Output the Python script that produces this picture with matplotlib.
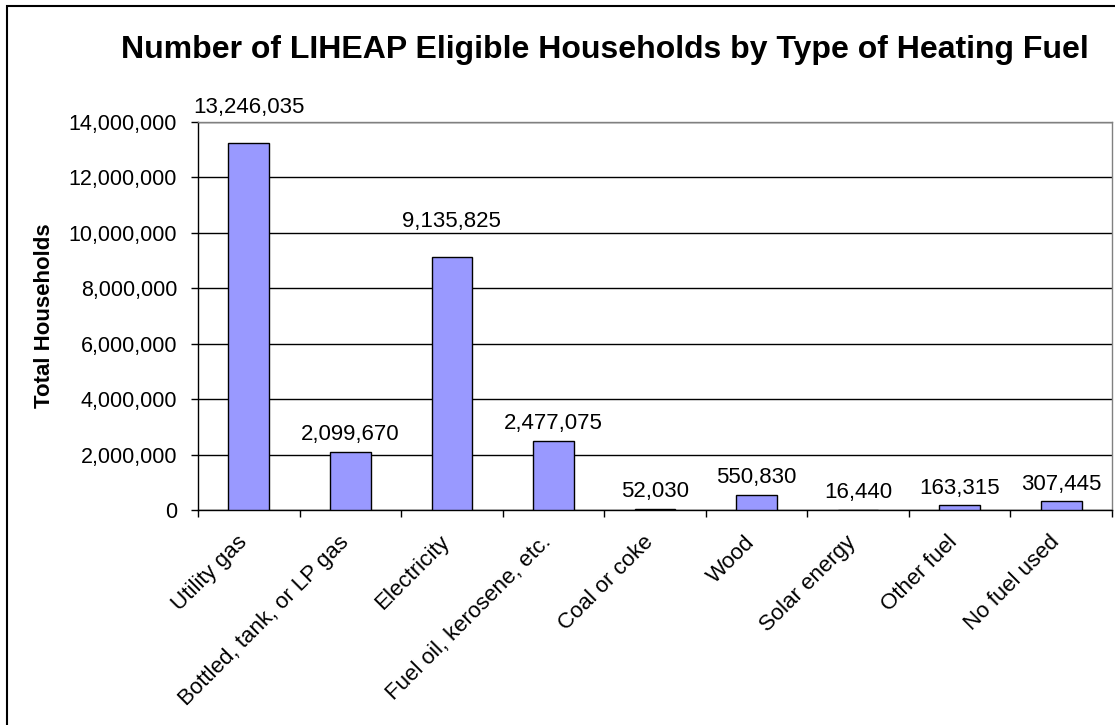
import matplotlib
matplotlib.use("Agg")
import matplotlib.pyplot as plt
import matplotlib.patches as patches
import matplotlib.transforms as mtransforms
from matplotlib.ticker import FuncFormatter, MultipleLocator
import numpy as np

plt.rcParams['font.family'] = ['Liberation Sans', 'DejaVu Sans']

# データ
categories = ["Utility gas", "Bottled, tank, or LP gas", "Electricity",
              "Fuel oil, kerosene, etc.", "Coal or coke", "Wood",
              "Solar energy", "Other fuel", "No fuel used"]
households = [13246035, 2099670, 9135825, 2477075, 52030,
              550830, 16440, 163315, 307445]

title = "Number of LIHEAP Eligible Households by Type of Heating Fuel"
ylabel = "Total Households"


def main():
    fig = plt.figure(figsize=(11.15, 7.25), dpi=100)
    ax = fig.add_axes([198 / 1115, 1 - 510 / 725, 914 / 1115, 388 / 725])

    x = np.arange(len(categories))
    ax.bar(x, households, width=0.4, color="#9999FF", edgecolor="black",
           linewidth=1.0, zorder=3)

    ## データラベル
    for xi, v in zip(x, households):
        pad = 18 if v > 5e6 else 5
        ax.annotate(f"{v:,}", (xi, v), xytext=(0, pad), textcoords="offset points",
                    ha="center", va="bottom", fontsize=16, color="black")

    ax.set_xlim(-0.5, len(categories) - 0.5)
    ax.set_ylim(0, 14000000)
    ax.yaxis.set_major_locator(MultipleLocator(2000000))
    ax.yaxis.set_major_formatter(FuncFormatter(lambda v, p: f"{int(v):,}"))
    ax.grid(axis="y", color="black", linewidth=1.0, zorder=0)

    ## 区切りの目盛り
    ax.set_xticks(x)
    ax.set_xticklabels(categories, rotation=45, ha="right", va="center",
                       rotation_mode="anchor", fontsize=16)
    ax.tick_params(axis="x", which="major", length=0, pad=21)
    shift = mtransforms.ScaledTranslation(-5 / 100, 0, fig.dpi_scale_trans)
    for lbl in ax.get_xticklabels():
        lbl.set_transform(lbl.get_transform() + shift)
    ax.set_xticks(np.arange(len(categories) + 1) - 0.5, minor=True)
    ax.tick_params(axis="x", which="minor", length=5, width=1, color="black")
    ax.tick_params(axis="y", length=5, width=1, pad=10, labelsize=15.5)

    for s in ["left", "bottom"]:
        ax.spines[s].set_color("black")
        ax.spines[s].set_linewidth(1.0)
    for s in ["right", "top"]:
        ax.spines[s].set_color("#808080")
        ax.spines[s].set_linewidth(1.0)

    ax.set_ylabel(ylabel, fontsize=16, fontweight="bold", labelpad=10)

    fig.text(605 / 1115, 1 - 50 / 725, title, ha="center", va="center",
             fontsize=23, fontweight="bold")

    ## 外枠
    border = patches.Rectangle((7 / 1115, -0.05), 1.2, 1 - 6 / 725 + 0.05,
                               transform=fig.transFigure, fill=False,
                               edgecolor="black", linewidth=1.5, clip_on=False)
    fig.patches.append(border)

    fig.savefig("out.png", dpi=100)


if __name__ == "__main__":
    main()
